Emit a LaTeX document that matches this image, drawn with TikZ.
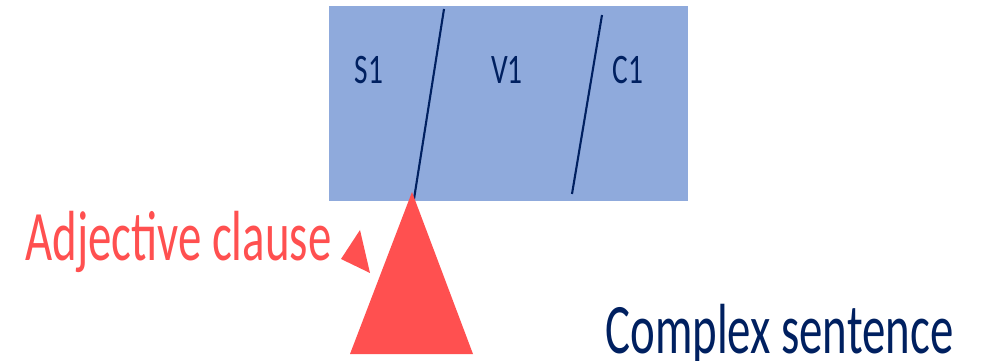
\documentclass[tikz,border=0pt]{standalone}
\usepackage{fontspec}
\setmainfont{Carlito}
\newfontfamily\narrowfont[FakeStretch=0.66]{Carlito}
\newfontfamily\slotfont[FakeStretch=0.7]{Carlito}
\usepackage{tikz}
\definecolor{boxblue}{RGB}{143,170,220}
\definecolor{navy}{RGB}{0,32,96}
\definecolor{clausered}{RGB}{255,80,80}
\tikzset{
	slot/.style={
		text=navy,
		inner sep=0pt,
		font=\slotfont\fontsize{23.9}{28}\selectfont
	},
	bigtext/.style={
		inner sep=0pt,
		anchor=base west,
		font=\narrowfont\fontsize{40.4}{48}\selectfont
	},
	divider/.style={draw=navy,line width=1.2pt}
}

\begin{document}
\begin{tikzpicture}[x=0.02cm,y=-0.02cm]
		\useasboundingbox (0,0) rectangle (984,361);
		\node[fill=boxblue,minimum width=359*0.02cm,minimum height=195*0.02cm,inner sep=0pt,anchor=north west] (clause) at (329,6) {};
		\node[slot] (subj) at (369,70) {S1};
		\node[slot] (verb) at (507,70) {V1};
		\node[slot] (comp) at (628,70) {C1};
		\draw[divider] (444,9) -- (414,199);
		\draw[divider] (602,15) -- (572,194);
		% adjective clause triangle
		\fill[clausered] (412,192) -- (473,354) -- (350,354) -- cycle;
		\fill[clausered] (341,259) -- (360,230) -- (370,273) -- cycle;
		\node[bigtext,text=clausered] (adj) at (25,261) {Adjective clause};
		\node[bigtext,text=navy] (whole) at (605,354) {Complex sentence};
	\end{tikzpicture}
\end{document}
